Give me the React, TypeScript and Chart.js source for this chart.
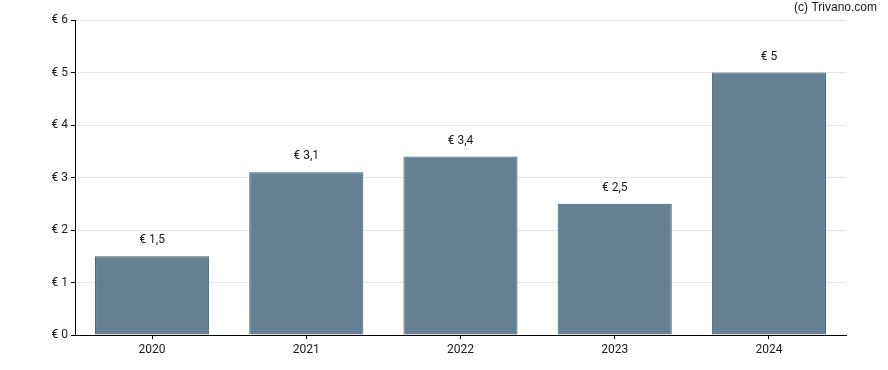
import React, { useEffect, useRef } from "react";
import { Chart, registerables } from "chart.js";

Chart.register(...registerables);

const categories = ["2020", "2021", "2022", "2023", "2024"];
const values = [1.5, 3.1, 3.4, 2.5, 5];
const yTicks = [0, 1, 2, 3, 4, 5, 6];

const fmt = (v: number) => "€ " + String(v).replace(".", ",");

const labelPlugin = {
  id: "barLabels",
  afterDatasetsDraw(chart: any) {
    const ctx = chart.ctx;
    const meta = chart.getDatasetMeta(0);
    ctx.save();
    ctx.font = "12px Roboto";
    ctx.fillStyle = "#1a1a1a";
    ctx.textAlign = "center";
    ctx.textBaseline = "bottom";
    meta.data.forEach((bar: any, i: number) => {
      ctx.fillText(fmt(values[i]), bar.x, bar.y - 10);
    });
    ctx.font = "12px 'Liberation Sans', Arial";
    ctx.textAlign = "right";
    ctx.textBaseline = "middle";
    ctx.fillText("(c) Trivano.com", 877, 8);
    ctx.restore();
  },
};

export default function App() {
  const ref = useRef<HTMLCanvasElement>(null);
  useEffect(() => {
    document.body.style.margin = "0";
    const chart = new Chart(ref.current!, {
      type: "bar",
      data: {
        labels: categories,
        datasets: [
          {
            data: values,
            backgroundColor: "#658092",
            borderColor: "#3f5a6e",
            borderWidth: 1,
            categoryPercentage: 1,
            barPercentage: 0.74,
          },
        ],
      },
      options: {
        animation: false,
        responsive: false,
        layout: { padding: { top: 20, right: 42, left: 0, bottom: 0 } },
        plugins: { legend: { display: false }, tooltip: { enabled: false } },
        scales: {
          x: {
            grid: { drawOnChartArea: false, offset: false, tickLength: 4, tickColor: "#000" },
            border: { color: "#000", width: 1 },
            ticks: { color: "#1a1a1a", font: { family: "Roboto", size: 12 }, padding: 4 },
            afterFit(s: any) { s.height = 35; },
          },
          y: {
            min: 0,
            max: 6,
            afterBuildTicks(s: any) { s.ticks = yTicks.map((v) => ({ value: v })); },
            grid: { color: "#e6e6e6", tickLength: 4, tickColor: "#000" },
            border: { color: "#000", width: 1 },
            ticks: {
              color: "#1a1a1a",
              font: { family: "Roboto", size: 12 },
              padding: 3,
              callback: (v: any) => fmt(Number(v)),
            },
            afterFit(s: any) { s.width = 75; },
          },
        },
      },
      plugins: [labelPlugin],
    });
    return () => chart.destroy();
  }, []);
  return <canvas ref={ref} width={888} height={370} style={{ display: "block" }} />;
}
